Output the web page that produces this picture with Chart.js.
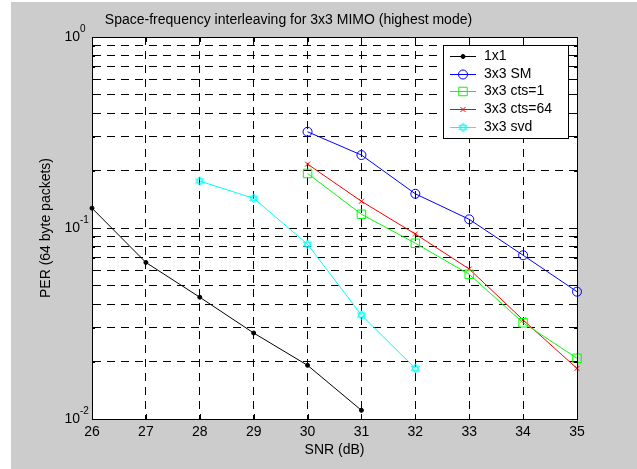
<!DOCTYPE html>
<html>
<head>
<meta charset="utf-8">
<script src="https://cdn.jsdelivr.net/npm/chart.js@4.4.1/dist/chart.umd.min.js"></script>
<style>
  html, body { margin: 0; padding: 0; background: #fff; }
</style>
</head>
<body>
<canvas id="myChart" width="637" height="469"></canvas>
<script>
// x positions for each series (SNR in dB)
var snr1x1 = [26, 27, 28, 29, 30, 31];
var snrSM = [30, 31, 32, 33, 34, 35];
var snrCts1 = [30, 31, 32, 33, 34, 35];
var snrCts64 = [30, 31, 32, 33, 34, 35];
var snrSvd = [28, 29, 30, 31, 32];

// PER values
var per1x1 = [0.127, 0.066, 0.0434, 0.0282, 0.0191, 0.0111];
var perSM = [0.319, 0.241, 0.151, 0.111, 0.072, 0.0464];
var perCts1 = [0.193, 0.118, 0.0832, 0.0572, 0.0319, 0.0208];
var perCts64 = [0.216, 0.138, 0.093, 0.061, 0.033, 0.0184];
var perSvd = [0.176, 0.143, 0.0822, 0.035, 0.0184];

var seriesNames = ['1x1', '3x3 SM', '3x3 cts=1', '3x3 cts=64', '3x3 svd'];

// axis ticks
var xTicks = [26, 27, 28, 29, 30, 31, 32, 33, 34, 35];
var yDecades = [1, 0.1, 0.01];
var yDecadeExp = ['0', '-1', '-2'];
var yMinorSteps = [2, 3, 4, 5, 6, 7, 8, 9];

function pts(xs, ys) {
    return xs.map(function (x, i) { return { x: x, y: ys[i] }; });
}

// hexagram marker for the svd curve
function hexagram(color) {
    var c = document.createElement('canvas');
    c.width = 11; c.height = 11;
    var g = c.getContext('2d');
    g.strokeStyle = color;
    g.lineWidth = 1;
    var cx = 5.5, cy = 5.5, r = 4.6;
    for (var t = 0; t < 2; t++) {
        g.beginPath();
        for (var k = 0; k < 3; k++) {
            var a = -Math.PI / 2 + t * Math.PI / 3 + k * 2 * Math.PI / 3;
            var px = cx + r * Math.cos(a), py = cy + r * Math.sin(a);
            if (k === 0) g.moveTo(px, py); else g.lineTo(px, py);
        }
        g.closePath();
        g.stroke();
    }
    return c;
}
var hexImg = hexagram('#00ffff');

var FONT = "'Liberation Sans', Arial, sans-serif";
Chart.defaults.font.family = FONT;
Chart.defaults.font.size = 14;
Chart.defaults.color = '#000';

var markers = [
    { style: 'circle', radius: 2, fill: '#000', color: '#000' },
    { style: 'circle', radius: 4.5, fill: 'rgba(0,0,0,0)', color: '#0000ff' },
    { style: 'rect', radius: 6, fill: 'rgba(0,0,0,0)', color: '#00ff00' },
    { style: 'crossRot', radius: 3.5, fill: 'rgba(0,0,0,0)', color: '#ff0000' },
    { style: hexImg, radius: 5, fill: 'rgba(0,0,0,0)', color: '#00ffff' }
];

function makeSet(i, data) {
    var m = markers[i];
    return {
        label: seriesNames[i],
        data: data,
        borderColor: m.color,
        backgroundColor: m.fill,
        borderWidth: 1,
        pointStyle: m.style,
        pointRadius: m.radius,
        pointBorderColor: m.color,
        pointBackgroundColor: m.fill,
        pointBorderWidth: 1,
        pointHoverRadius: m.radius,
        tension: 0,
        fill: false,
        clip: false
    };
}

var matlabLook = {
    id: 'matlabLook',
    beforeDraw: function (chart) {
        var ctx = chart.ctx, a = chart.chartArea;
        ctx.save();
        ctx.fillStyle = '#fff';
        ctx.fillRect(0, 0, chart.width, chart.height);
        ctx.fillStyle = '#cccccc';
        ctx.fillRect(11, 2, chart.width - 11, chart.height - 2);
        ctx.fillStyle = '#fff';
        ctx.fillRect(a.left, a.top, a.right - a.left, a.bottom - a.top);
        ctx.restore();
    },
    afterDraw: function (chart) {
        var ctx = chart.ctx, a = chart.chartArea;
        var xs = chart.scales.x, ys = chart.scales.y;
        ctx.save();
        // axes box
        ctx.strokeStyle = '#000';
        ctx.lineWidth = 1;
        ctx.strokeRect(Math.round(a.left) + 0.5, Math.round(a.top) + 0.5,
            Math.round(a.right - a.left), Math.round(a.bottom - a.top));
        // inward tick marks
        ctx.beginPath();
        xTicks.forEach(function (v) {
            var px = Math.round(xs.getPixelForValue(v)) + 0.5;
            ctx.moveTo(px, a.bottom); ctx.lineTo(px, a.bottom - 5);
            ctx.moveTo(px, a.top); ctx.lineTo(px, a.top + 5);
        });
        yDecades.forEach(function (d, di) {
            var py = Math.round(ys.getPixelForValue(d)) + 0.5;
            ctx.moveTo(a.left, py); ctx.lineTo(a.left + 5, py);
            ctx.moveTo(a.right, py); ctx.lineTo(a.right - 5, py);
            if (di < yDecades.length - 1) {
                yMinorSteps.forEach(function (s) {
                    var q = Math.round(ys.getPixelForValue(d / 10 * s)) + 0.5;
                    ctx.moveTo(a.left, q); ctx.lineTo(a.left + 3, q);
                    ctx.moveTo(a.right, q); ctx.lineTo(a.right - 3, q);
                });
            }
        });
        ctx.stroke();
        // y tick labels 10^n
        ctx.fillStyle = '#000';
        ctx.textBaseline = 'middle';
        yDecades.forEach(function (d, i) {
            var py = ys.getPixelForValue(d);
            ctx.font = '14px ' + FONT;
            ctx.textAlign = 'right';
            ctx.fillText('10', 80, py);
            ctx.font = '10px ' + FONT;
            ctx.textAlign = 'left';
            ctx.fillText(yDecadeExp[i], 80, py - 8);
        });
        // legend
        var lx = 443, ly = 45, lw = 125, lh = 93;
        ctx.fillStyle = '#fff';
        ctx.fillRect(lx, ly, lw, lh);
        ctx.strokeStyle = '#000';
        ctx.strokeRect(lx + 0.5, ly + 0.5, lw, lh);
        chart.data.datasets.forEach(function (ds, i) {
            var m = markers[i];
            var ry = Math.round(56 + i * 17.7) + 0.5;
            ctx.strokeStyle = m.color;
            ctx.lineWidth = 1;
            ctx.beginPath();
            ctx.moveTo(450, ry); ctx.lineTo(476, ry);
            ctx.stroke();
            ctx.fillStyle = m.fill;
            ctx.strokeStyle = m.color;
            Chart.helpers.drawPoint(ctx, {
                pointStyle: m.style, radius: m.radius, rotation: 0, borderWidth: 1
            }, 463, ry);
            ctx.fillStyle = '#000';
            ctx.font = '14px ' + FONT;
            ctx.textAlign = 'left';
            ctx.textBaseline = 'middle';
            ctx.fillText(ds.label, 484, ry);
        });
        ctx.restore();
    }
};

var ctx = document.getElementById('myChart').getContext('2d');
var myChart = new Chart(ctx, {
    type: 'line',
    data: {
        datasets: [
            makeSet(0, pts(snr1x1, per1x1)),
            makeSet(1, pts(snrSM, perSM)),
            makeSet(2, pts(snrCts1, perCts1)),
            makeSet(3, pts(snrCts64, perCts64)),
            makeSet(4, pts(snrSvd, perSvd))
        ]
    },
    options: {
        responsive: false,
        animation: false,
        layout: { padding: { left: 0, right: 60, top: 0, bottom: 0 } },
        plugins: {
            legend: { display: false },
            tooltip: { enabled: false },
            title: {
                display: true,
                text: 'Space-frequency interleaving for 3x3 MIMO (highest mode)',
                font: { size: 14, weight: 'normal' },
                padding: { top: 11.6, bottom: 8.6 }
            }
        },
        scales: {
            x: {
                type: 'linear',
                min: 26,
                max: 35,
                afterBuildTicks: function (scale) {
                    scale.ticks = xTicks.map(function (v) { return { value: v }; });
                },
                afterFit: function (scale) { scale.height = 50; },
                ticks: { padding: 4.6, maxRotation: 0, autoSkip: false },
                grid: { color: '#000', lineWidth: 1, drawTicks: false },
                border: { display: true, color: '#000', dash: [8, 6] },
                title: {
                    display: true,
                    text: 'SNR (dB)',
                    font: { size: 14 },
                    padding: { top: 0, bottom: 10.6 }
                }
            },
            y: {
                type: 'logarithmic',
                min: 0.01,
                max: 1,
                afterBuildTicks: function (scale) {
                    var t = [];
                    [0.01, 0.1].forEach(function (d) {
                        [1].concat(yMinorSteps).forEach(function (s) { t.push({ value: d * s }); });
                    });
                    t.push({ value: 1 });
                    scale.ticks = t;
                },
                afterFit: function (scale) { scale.width = 92; },
                ticks: { display: false },
                grid: { color: '#000', lineWidth: 1, drawTicks: false },
                border: { display: true, color: '#000', dash: [8, 6] },
                title: {
                    display: true,
                    text: 'PER (64 byte packets)',
                    font: { size: 14 },
                    padding: { top: 37.6, bottom: 0 }
                }
            }
        }
    },
    plugins: [matlabLook]
});
</script>
</body>
</html>
